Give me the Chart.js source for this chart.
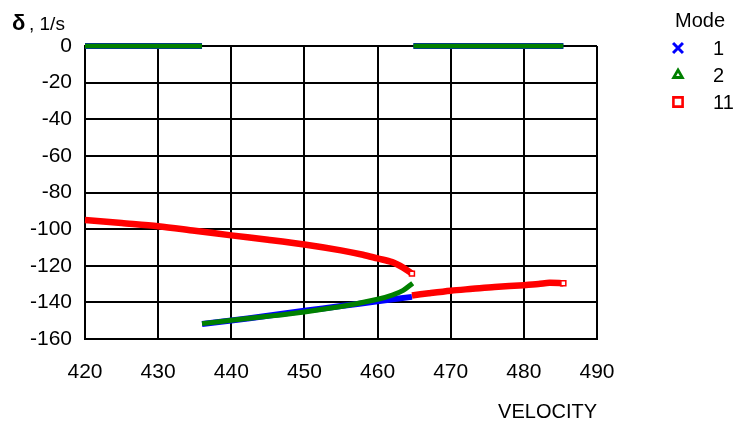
<!DOCTYPE html>
<html>
<head>
<meta charset="utf-8">
<script src="https://cdn.jsdelivr.net/npm/chart.js@4/dist/chart.umd.min.js"></script>
<style>
  html, body { margin: 0; padding: 0; background: #fff; }
  #wrap { width: 741px; height: 428px; }
</style>
</head>
<body>
<div id="wrap"><canvas id="c" width="741" height="428"></canvas></div>
<script>
// Damping (delta, 1/s) of the tracked modes versus velocity

// Mode 1
const mode1ZeroLowV  = [420, 436];
const mode1ZeroHighV = [464.9, 485.4];
const mode1BranchV = [436, 440, 445, 450, 455, 460, 464.7];
const mode1BranchD = [-151.8, -149.9, -147.3, -144.6, -142.0, -139.4, -137.0];

// Mode 2
const mode2ZeroLowV  = [420, 436];
const mode2ZeroHighV = [464.9, 485.4];
const mode2BranchV = [436, 440, 445, 450, 455, 460, 462, 463.5, 464.8];
const mode2BranchD = [-151.6, -149.8, -147.6, -145.2, -142.3, -138.3, -136.0, -133.4, -129.5];

// Mode 11
const mode11UpperV = [420, 425, 430, 435, 440, 445, 450, 455, 458, 460, 462, 463.5, 464.7];
const mode11UpperD = [-95.0, -96.7, -98.4, -100.9, -103.4, -105.8, -108.4, -111.6, -114.0, -116.0, -118.0, -121.0, -124.3];
const mode11LowerV = [464.7, 467, 470, 473, 476, 480, 482, 483.5, 485.4];
const mode11LowerD = [-136.2, -135.0, -133.6, -132.6, -131.6, -130.6, -130.0, -129.3, -129.6];

const velocityMin = 420, velocityMax = 490, velocityStep = 10;
const deltaMin = -160, deltaMax = 0, deltaStep = 20;

const modeNames = ['1', '2', '11'];

function seg(vs, ds) {
  return vs.map((v, i) => ({ x: v, y: ds ? ds[i] : 0 }));
}
function joinSegments(...segments) {
  const out = [];
  segments.forEach((s, k) => {
    if (k > 0) out.push({ x: s[0].x, y: null });
    out.push(...s);
  });
  return out;
}

const mode1Data = joinSegments(seg(mode1ZeroLowV), seg(mode1BranchV, mode1BranchD), seg(mode1ZeroHighV));
const mode2Data = joinSegments(seg(mode2ZeroLowV), seg(mode2BranchV, mode2BranchD), seg(mode2ZeroHighV));
const mode11Data = joinSegments(seg(mode11UpperV, mode11UpperD), seg(mode11LowerV, mode11LowerD));

const FONT = '"Liberation Sans", Arial, sans-serif';

// end markers of the mode 11 branches
function isSegmentEnd(ctx) {
  const d = ctx.dataset.data;
  const i = ctx.dataIndex;
  if (!d[i] || d[i].y === null) return false;
  return (i === d.length - 1) || (d[i + 1] && d[i + 1].y === null);
}

const legendItems = [
  { text: modeNames[0], style: 'crossRot', color: '#0000ff', radius: 7, width: 3 },
  { text: modeNames[1], style: 'triangle', color: '#008000', radius: 5, width: 2.8 },
  { text: modeNames[2], style: 'rect', color: '#ff0000', radius: 6.5, width: 2.6 }
];

const annotationsPlugin = {
  id: 'annotations',
  afterDraw(chart) {
    const ctx = chart.ctx;
    ctx.save();
    // axis quantity label at the top left
    ctx.fillStyle = '#000';
    ctx.textBaseline = 'alphabetic';
    ctx.textAlign = 'left';
    ctx.font = 'bold 22px ' + FONT;
    ctx.fillText('δ', 12, 30);
    ctx.font = '19px ' + FONT;
    ctx.fillText(', 1/s', 29, 30);

    // legend
    ctx.font = '20px ' + FONT;
    ctx.textBaseline = 'middle';
    ctx.fillText('Mode', 675, 21);
    const rowY = [48, 75, 102];
    legendItems.forEach((it, k) => {
      ctx.strokeStyle = it.color;
      ctx.fillStyle = '#fff';
      ctx.lineWidth = it.width;
      Chart.helpers.drawPoint(ctx, { pointStyle: it.style, radius: it.radius, borderWidth: it.width, rotation: 0 }, 678, rowY[k]);
      ctx.fillStyle = '#000';
      ctx.fillText(it.text, 713, rowY[k] + 1);
    });
    ctx.restore();
  }
};

new Chart(document.getElementById('c'), {
  type: 'scatter',
  data: {
    datasets: [
      {
        label: modeNames[0], data: mode1Data, showLine: true, spanGaps: false, clip: 8,
        borderColor: '#0000ff', backgroundColor: '#0000ff', borderWidth: 6,
        pointRadius: 0, order: 2
      },
      {
        label: modeNames[1], data: mode2Data, showLine: true, spanGaps: false, clip: 8,
        borderColor: '#008000', backgroundColor: '#008000', borderWidth: 5,
        pointRadius: 0, order: 1
      },
      {
        label: modeNames[2], data: mode11Data, showLine: true, spanGaps: false, clip: 8,
        borderColor: '#ff0000', backgroundColor: '#ff0000', borderWidth: 6.5,
        pointStyle: 'rect',
        pointRadius: (ctx) => isSegmentEnd(ctx) ? 3.5 : 0,
        pointBackgroundColor: '#ffffff', pointBorderColor: '#ff0000', pointBorderWidth: 1.5,
        order: 0
      }
    ]
  },
  options: {
    responsive: false,
    animation: false,
    devicePixelRatio: 1,
    layout: { padding: { top: 46, right: 144, left: 0, bottom: 0 } },
    plugins: {
      legend: { display: false },
      tooltip: { enabled: false }
    },
    elements: { line: { tension: 0.3, capBezierPoints: true } },
    scales: {
      x: {
        type: 'linear', min: velocityMin, max: velocityMax,
        afterFit(scale) { scale.height = 89; },
        ticks: { stepSize: velocityStep, color: '#000', padding: 21, font: { family: FONT, size: 21 } },
        grid: { color: '#000', lineWidth: 2, drawTicks: false },
        border: { color: '#000', width: 2 },
        title: { display: true, text: 'VELOCITY', align: 'end', color: '#000',
                 font: { family: FONT, size: 20 }, padding: { top: 0, bottom: 4 } }
      },
      y: {
        type: 'linear', min: deltaMin, max: deltaMax,
        afterFit(scale) { scale.width = 85; },
        ticks: { stepSize: deltaStep, color: '#000', padding: 13, font: { family: FONT, size: 21 } },
        grid: { color: '#000', lineWidth: 2, drawTicks: false },
        border: { color: '#000', width: 2 }
      }
    }
  },
  plugins: [annotationsPlugin]
});
</script>
</body>
</html>
